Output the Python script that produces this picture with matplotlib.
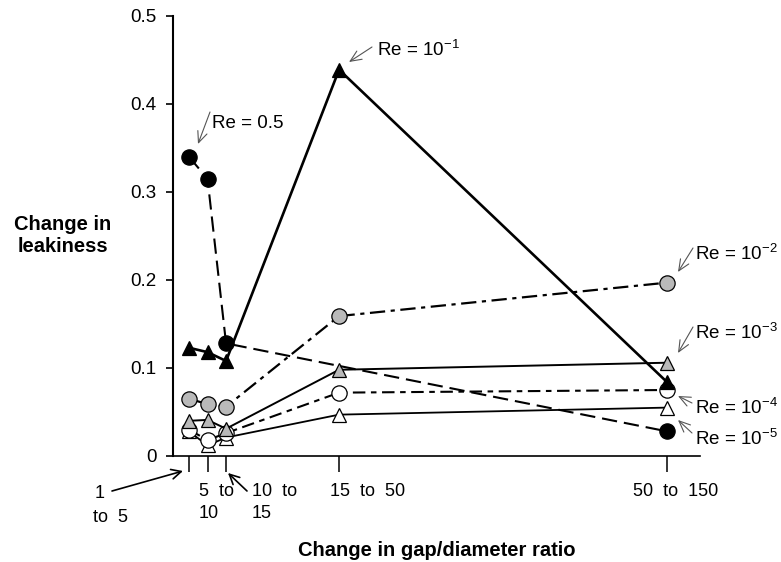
import numpy as np
import matplotlib
matplotlib.use("Agg")
import matplotlib.pyplot as plt

plt.rcParams['font.family'] = ['Liberation Sans', 'DejaVu Sans']
plt.rcParams['mathtext.fontset'] = 'custom'
plt.rcParams['mathtext.rm'] = 'Liberation Sans'
plt.rcParams['mathtext.it'] = 'Liberation Sans:italic'
plt.rcParams['mathtext.bf'] = 'Liberation Sans:bold'
plt.rcParams['lines.scale_dashes'] = False

# ---------------- data ----------------
categories = ["1 to 5", "5 to 10", "10 to 15", "15 to 50", "50 to 150"]
x_positions = [0.0, 1.0, 2.0, 8.1, 25.8]   # non-uniform category axis
re_0_5 = [0.340, 0.315, 0.128, np.nan, 0.028]
re_1e1 = [0.123, 0.118, 0.108, 0.439, 0.084]
re_1e2 = [0.065, 0.059, 0.056, 0.159, 0.197]
re_1e3 = [0.040, 0.041, 0.031, 0.098, 0.106]
re_1e4 = [0.030, 0.018, 0.026, 0.072, 0.075]
re_1e5 = [0.028, 0.012, 0.021, 0.047, 0.055]
y_ticks = [0, 0.1, 0.2, 0.3, 0.4, 0.5]
y_ticklabels = ["0", "0.1", "0.2", "0.3", "0.4", "0.5"]

W, H = 781, 562
fig = plt.figure(figsize=(W / 100, H / 100), dpi=100)
ax = fig.add_axes([173 / W, (H - 456) / H, 527 / W, 440 / H])

GRAY = '#b9b9b9'

def series(vals, marker, face, lw, dashes, z, ms):
    x = np.array(x_positions)
    v = np.array(vals, dtype=float)
    m = np.isfinite(v)
    line, = ax.plot(x[m], v[m], color='black', lw=lw, marker=marker,
                    markersize=ms, markerfacecolor=face, markeredgecolor='black',
                    markeredgewidth=0.9, zorder=z, clip_on=False)
    if dashes is not None:
        line.set_dashes(dashes)
    return line

series(re_1e5, '^', 'white', 1.3, None, 2, 10.5)
series(re_1e4, 'o', 'white', 1.5, (9, 4, 4, 4), 3, 11)
series(re_1e3, '^', GRAY, 1.4, None, 4, 10.5)
series(re_1e2, 'o', GRAY, 1.6, (11, 4, 3, 4), 5, 11)
series(re_1e1, '^', 'black', 1.9, None, 6, 10.5)
series(re_0_5, 'o', 'black', 1.5, (11, 5), 7, 11)

ax.set_xlim(-0.863, 27.58)
ax.set_ylim(0, 0.5)
for s in ['top', 'right']:
    ax.spines[s].set_visible(False)
ax.spines['left'].set_linewidth(1.5)
ax.spines['bottom'].set_linewidth(1.2)
ax.set_yticks(y_ticks)
ax.set_yticklabels(y_ticklabels)
ax.set_xticks(x_positions)
ax.set_xticklabels([])
ax.tick_params(axis='y', direction='out', length=5, width=1.2, pad=7, labelsize=13.5)
ax.tick_params(axis='x', direction='out', length=11.5, width=1.1)

def fx(x):
    return x / W

def fy(y):
    return 1 - y / H

# axis titles
fig.text(fx(63), fy(236), "Change in\nleakiness", ha='center', va='center',
         fontsize=14.5, fontweight='bold', linespacing=1.2)
fig.text(fx(437), fy(550), "Change in gap/diameter ratio", ha='center', va='center',
         fontsize=14.5, fontweight='bold')

# category labels
tick_fs = 13
fig.text(fx(95), fy(493), "1", ha='left', va='center', fontsize=tick_fs)
fig.text(fx(93), fy(517), "to  5", ha='left', va='center', fontsize=tick_fs)
fig.text(fx(199), fy(492), "5  to", ha='left', va='center', fontsize=tick_fs)
fig.text(fx(199), fy(514), "10", ha='left', va='center', fontsize=tick_fs)
fig.text(fx(252), fy(492), "10  to", ha='left', va='center', fontsize=tick_fs)
fig.text(fx(252), fy(514), "15", ha='left', va='center', fontsize=tick_fs)
fig.text(fx(330), fy(492), "15  to  50", ha='left', va='center', fontsize=tick_fs)
fig.text(fx(633), fy(492), "50  to  150", ha='left', va='center', fontsize=tick_fs)

def arrow(tail, tip, color, lw, hl=0.7, hw=0.35):
    ax.annotate('', xy=(fx(tip[0]), fy(tip[1])), xycoords='figure fraction',
                xytext=(fx(tail[0]), fy(tail[1])), textcoords='figure fraction',
                arrowprops=dict(arrowstyle=f'->,head_length={hl},head_width={hw}',
                                color=color, lw=lw, shrinkA=0, shrinkB=0,
                                mutation_scale=10),
                annotation_clip=False)

arrow((112, 491), (183, 471), 'black', 1.2)
arrow((247, 491), (228, 473), 'black', 1.2)

# Re labels
re_fs = 13.5
labels = [
    ("Re = 0.5", (212, 123), (210, 112), (198, 144)),
    ("Re = 10$^{-1}$", (377, 50), (372, 47), (349, 62)),
    ("Re = 10$^{-2}$", (695, 254), (693, 248), (678, 272)),
    ("Re = 10$^{-3}$", (695, 333), (693, 327), (678, 353)),
    ("Re = 10$^{-4}$", (695, 408), (692, 403), (678, 396)),
    ("Re = 10$^{-5}$", (695, 439), (692, 433), (678, 420)),
]
for txt, pos, tail, tip in labels:
    fig.text(fx(pos[0]), fy(pos[1]), txt, ha='left', va='center', fontsize=re_fs)
    arrow(tail, tip, '#555555', 0.8, hl=0.8, hw=0.35)

fig.savefig("out.png", dpi=100)
